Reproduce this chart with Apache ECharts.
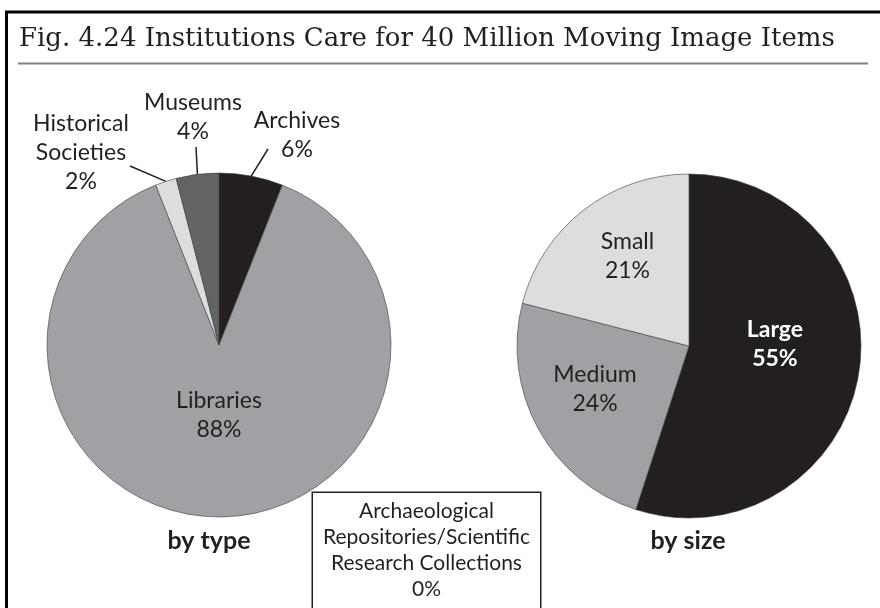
<!DOCTYPE html>
<html>
<head>
<meta charset="utf-8">
<script src="https://cdn.jsdelivr.net/npm/echarts@6/dist/echarts.min.js"></script>
<style>html,body{margin:0;padding:0;background:#fff}#c{width:880px;height:608px}</style>
</head>
<body>
<div id="c"></div>
<script>
// ---- data ----
const chartTitle = 'Fig. 4.24 Institutions Care for 40 Million Moving Image Items';
const typeCategories = ['Archives', 'Libraries', 'Historical Societies', 'Museums', 'Archaeological Repositories/Scientific Research Collections'];
const typeLabelText = ['Archives', 'Libraries', 'Historical\nSocieties', 'Museums', 'Archaeological\nRepositories/Scientific\nResearch Collections'];
const typeValues = [6, 88, 2, 4, 0];
const sizeCategories = ['Large', 'Medium', 'Small'];
const sizeValues = [55, 24, 21];
const subTitles = ['by type', 'by size'];

// ---- styles ----
const INK = '#231f20';
const BLACK = '#231f20', GRAY = '#a0a1a4', LIGHT = '#dcdddf', DARK = '#636466';
const typeColors = [BLACK, GRAY, LIGHT, DARK, '#ffffff'];
const sizeColors = [BLACK, GRAY, LIGHT];
const LABEL_FONT = 'Lato, "Open Sans", sans-serif';

// label placement (style, not data)
const typeLabelPlace = [
  { x: 297, y: 135, end: [268, 149] },
  { dx: 0, dy: -19 },
  { x: 81, y: 153, end: [130, 166] },
  { x: 193, y: 117, end: [196, 147] },
  { box: true, x: 426.5, y: 493 }
];
const sizeLabelPlace = [
  { dx: -2, dy: -16 },
  { dx: -16, dy: 0 },
  { dx: -7, dy: -20 }
];

const chart = echarts.init(document.getElementById('c'), null, { renderer: 'canvas' });

const typeData = typeValues.map((v, i) => {
  const d = { name: typeCategories[i], value: v, itemStyle: { color: typeColors[i] } };
  if (i === 1) {
    d.label = { position: 'inside' };
    d.labelLine = { show: false };
  }
  if (i === 4) {
    d.itemStyle = { color: '#fff', borderWidth: 0 };
    d.labelLine = { show: false };
    d.label = {
      position: 'outside',
      fontSize: 21,
      lineHeight: 26,
      width: 227,
      align: 'center',
      backgroundColor: '#fff',
      borderColor: INK,
      borderWidth: 1.5,
      padding: [5, 0, 30, 0]
    };
  }
  return d;
});

const sizeData = sizeValues.map((v, i) => {
  const d = { name: sizeCategories[i], value: v, itemStyle: { color: sizeColors[i] } };
  if (i === 0) d.label = { color: '#ffffff', fontWeight: 'bold' };
  return d;
});

const option = {
  backgroundColor: '#fff',
  animation: false,
  title: [
    { text: chartTitle, left: 14, top: 21,
      textStyle: { fontFamily: '"DejaVu Serif", serif', fontSize: 26, fontWeight: 'normal', color: INK } },
    { text: subTitles[0], left: 204, top: 523, textAlign: 'center',
      textStyle: { fontFamily: LABEL_FONT, fontSize: 25, fontWeight: 'bold', color: INK } },
    { text: subTitles[1], left: 683, top: 523, textAlign: 'center',
      textStyle: { fontFamily: LABEL_FONT, fontSize: 25, fontWeight: 'bold', color: INK } }
  ],
  graphic: [
    { type: 'line', shape: { x1: 6.5, y1: 11, x2: 6.5, y2: 610 }, style: { stroke: '#000', lineWidth: 3 } },
    { type: 'line', shape: { x1: 5, y1: 12, x2: 882, y2: 12 }, style: { stroke: '#000', lineWidth: 3 } },
    { type: 'line', shape: { x1: 18, y1: 63.5, x2: 868, y2: 63.5 }, style: { stroke: '#808080', lineWidth: 2 } }
  ],
  series: [
    {
      type: 'pie',
      center: [219, 345],
      radius: [0, 172],
      startAngle: 90,
      clockwise: true,
      avoidLabelOverlap: false,
      itemStyle: { borderColor: '#3a3a3a', borderWidth: 0.6 },
      label: {
        show: true,
        position: 'outside',
        fontFamily: LABEL_FONT,
        fontSize: 23,
        lineHeight: 29,
        color: INK,
        align: 'center',
        formatter: p => typeLabelText[p.dataIndex] + '\n' + p.value + '%'
      },
      labelLine: { show: true, length: 10, length2: 0, lineStyle: { color: INK, width: 1.5 } },
      labelLayout: function (params) {
        const pl = typeLabelPlace[params.dataIndex];
        if (!pl) return {};
        if (pl.box) return { x: pl.x, y: pl.y, align: 'center', verticalAlign: 'top' };
        if (pl.end) {
          const p0 = params.labelLinePoints ? params.labelLinePoints[0] : pl.end;
          return {
            x: pl.x, y: pl.y, align: 'center', verticalAlign: 'middle',
            labelLinePoints: [p0, pl.end, pl.end]
          };
        }
        return { dx: pl.dx, dy: pl.dy };
      },
      emphasis: { disabled: true },
      data: typeData
    },
    {
      type: 'pie',
      center: [689, 346],
      radius: [0, 172],
      startAngle: 90,
      clockwise: true,
      avoidLabelOverlap: false,
      itemStyle: { borderColor: '#3a3a3a', borderWidth: 0.6 },
      label: {
        show: true,
        position: 'inside',
        fontFamily: LABEL_FONT,
        fontSize: 23,
        lineHeight: 29,
        color: INK,
        align: 'center',
        formatter: p => p.name + '\n' + p.value + '%'
      },
      labelLine: { show: false },
      labelLayout: function (params) {
        const pl = sizeLabelPlace[params.dataIndex];
        return { dx: pl.dx, dy: pl.dy };
      },
      emphasis: { disabled: true },
      data: sizeData
    }
  ]
};
chart.setOption(option);
</script>
</body>
</html>
